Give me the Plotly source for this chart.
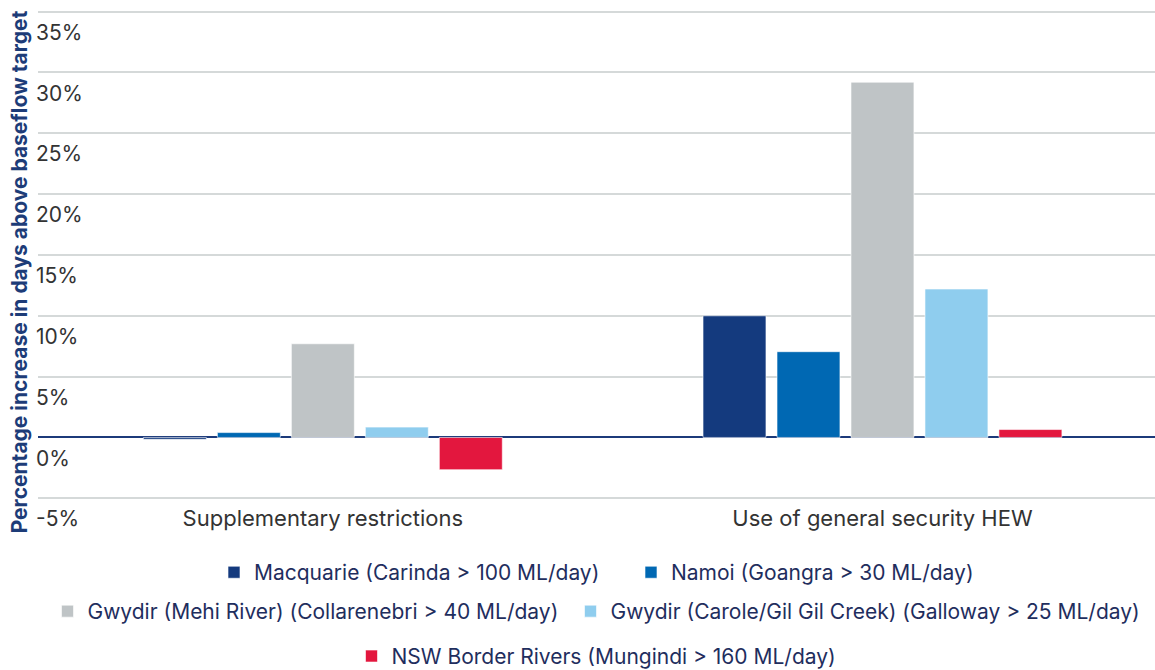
import plotly.graph_objects as go

categories = ["Supplementary restrictions", "Use of general security HEW"]
series_names = [
    "Macquarie (Carinda > 100 ML/day)",
    "Namoi (Goangra > 30 ML/day)",
    "Gwydir (Mehi River) (Collarenebri > 40 ML/day)",
    "Gwydir (Carole/Gil Gil Creek) (Galloway > 25 ML/day)",
    "NSW Border Rivers (Mungindi > 160 ML/day)",
]
macquarie = [-0.15, 10.0]
namoi = [0.4, 7.05]
gwydir_mehi = [7.7, 29.2]
gwydir_carole = [0.85, 12.2]
nsw_border = [-2.65, 0.65]
series_values = [macquarie, namoi, gwydir_mehi, gwydir_carole, nsw_border]
colors = ["#143A7E", "#0068B3", "#BFC4C6", "#8FCDEE", "#E3173E"]
legend_ids = ["legend", "legend", "legend2", "legend2", "legend3"]
legend_widths = [372, None, 478, None, None]

tick_values = [-5, 0, 5, 10, 15, 20, 25, 30, 35]
tick_labels = ["-5%", "0%", "5%", "10%", "15%", "20%", "25%", "30%", "35%"]

FONT = "Inter, Roboto, sans-serif"

fig = go.Figure()
for name, vals, col, lg, lw in zip(series_names, series_values, colors, legend_ids, legend_widths):
    fig.add_trace(go.Bar(
        x=categories, y=vals, name=name, legend=lg, legendwidth=lw,
        marker=dict(color=col, line=dict(color="rgba(255,255,255,0.6)", width=1)),
    ))

legend_font = dict(family=FONT, size=21, color="#1F2E5E")
common_legend = dict(orientation="h", xanchor="center", x=0.5, yanchor="middle",
                     font=legend_font, bgcolor="rgba(0,0,0,0)", itemclick=False)

fig.update_layout(
    width=1155, height=670,
    margin=dict(l=38, r=0, t=8, b=133.6, autoexpand=False),
    paper_bgcolor="white", plot_bgcolor="white",
    barmode="group", bargap=0.339, bargroupgap=0.149,
    font=dict(family=FONT, color="#333333"),
    showlegend=True,
    legend=dict(common_legend, y=-0.0693),
    legend2=dict(common_legend, y=-0.143),
    legend3=dict(common_legend, y=-0.228),
    xaxis=dict(
        range=[-0.509, 1.487], showgrid=False, showline=False, ticks="",
        tickfont=dict(family=FONT, size=22, color="#333333"),
        ticklabelstandoff=-33, automargin=False,
        fixedrange=True,
    ),
    yaxis=dict(
        range=[-8.1, 35.3], tickvals=tick_values, ticktext=tick_labels,
        ticklabelposition="inside bottom", ticklabelstandoff=-5, ticklabelshift=6,
        tickfont=dict(family=FONT, size=21, color="#333333"),
        showgrid=True, gridcolor="#D5D9D9", gridwidth=1.5,
        zeroline=True, zerolinecolor="#1C3A7A", zerolinewidth=2,
        showline=False, ticks="", automargin=False, fixedrange=True,
        title=dict(text="<b>Percentage increase in days above baseflow target</b>",
                   font=dict(family=FONT, size=21, color="#1D3C78"),
                   standoff=2),
    ),
)

fig.write_html("out.html", config={"displayModeBar": False},
               post_script="document.body.style.margin='0';")
